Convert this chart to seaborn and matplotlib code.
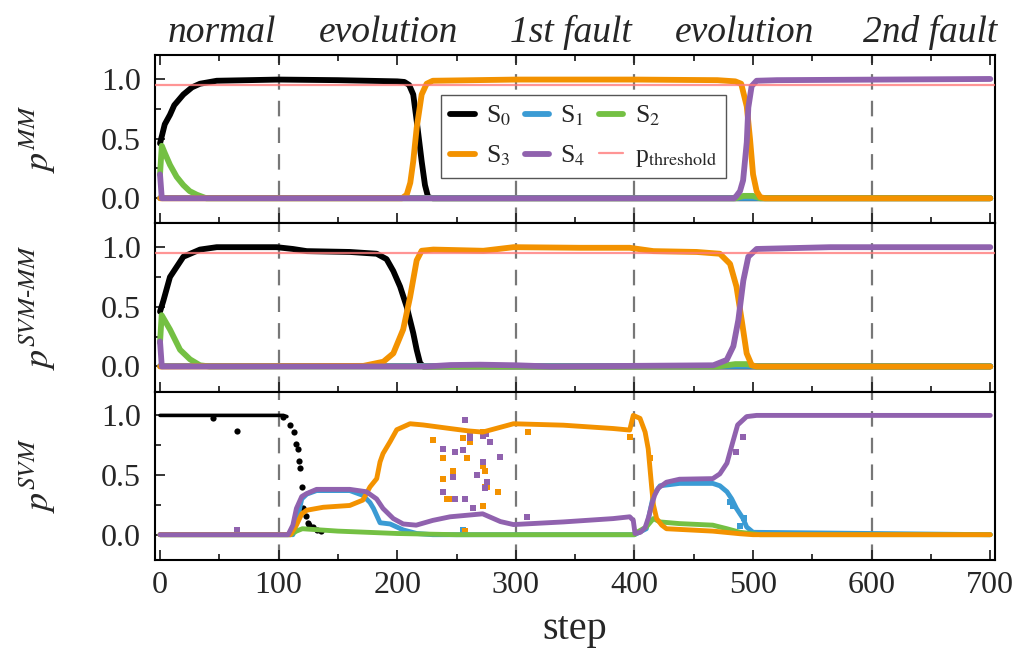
import matplotlib
matplotlib.use("Agg")
import matplotlib.pyplot as plt
import matplotlib.transforms as mtransforms
from matplotlib.ticker import MultipleLocator, FormatStrFormatter
import seaborn as sns

# ---- phases / annotations ----
PHASES = ["normal", "evolution", "1st fault", "evolution", "2nd fault"]
PHASE_STEP = [52, 193, 346, 493, 649]
FAULT_STEPS = [100, 300, 400, 600]
P_THRESHOLD = 0.95

# ---- panel 1: p^MM ----
MM_S0_STEP = [0, 4, 8.4, 12, 19.7, 27, 33.7, 47.8, 100, 150, 200, 206, 210, 213.5, 216.4, 218.5, 220.6, 223.4, 226, 230, 700]
MM_S0_P = [0.46, 0.62, 0.70, 0.78, 0.87, 0.93, 0.96, 0.985, 0.995, 0.99, 0.98, 0.975, 0.95, 0.87, 0.65, 0.48, 0.31, 0.11, 0.01, 0.0, 0.0]
MM_S1_STEP = [0, 700]
MM_S1_P = [0.0, 0.0]
MM_S2_STEP = [0, 1.5, 4, 8.4, 14, 19.7, 25, 31, 39, 485, 492, 500, 506, 700]
MM_S2_P = [0.2, 0.44, 0.38, 0.28, 0.18, 0.11, 0.06, 0.03, 0.0, 0.0, 0.02, 0.02, 0.0, 0.0]
MM_S3_STEP = [0, 204, 208, 211, 213.5, 216.4, 220.6, 224.8, 230, 300, 400, 470, 485, 490, 494.7, 497.5, 500, 503, 506, 510, 700]
MM_S3_P = [0.0, 0.0, 0.03, 0.13, 0.31, 0.59, 0.87, 0.96, 0.985, 0.995, 0.995, 0.99, 0.98, 0.96, 0.77, 0.49, 0.2, 0.06, 0.01, 0.0, 0.0]
MM_S4_STEP = [0, 1.5, 484, 486, 489, 491.6, 494.7, 496, 498.8, 503, 520, 700]
MM_S4_P = [0.2, 0.0, 0.0, 0.02, 0.06, 0.15, 0.47, 0.76, 0.94, 0.985, 0.99, 1.0]

# ---- panel 2: p^SVM-MM ----
SM_S0_STEP = [0, 2.8, 8.4, 19.7, 33.7, 47.8, 98.4, 112, 123.7, 160, 182.7, 191, 196.7, 202.4, 208, 213.5, 216.4, 219.2, 222, 700]
SM_S0_P = [0.46, 0.55, 0.75, 0.92, 0.98, 1.0, 1.0, 0.985, 0.967, 0.96, 0.945, 0.9, 0.8, 0.67, 0.5, 0.28, 0.14, 0.03, 0.0, 0.0]
SM_S1_STEP = [0, 700]
SM_S1_P = [0.0, 0.0]
SM_S2_STEP = [0, 1.4, 8.4, 16.9, 25.3, 33.7, 42, 470, 485, 495, 503, 700]
SM_S2_P = [0.2, 0.43, 0.31, 0.14, 0.06, 0.01, 0.0, 0.0, 0.02, 0.02, 0.0, 0.0]
SM_S3_STEP = [0, 171.5, 188.3, 196.7, 205, 210.8, 216.4, 220.6, 230.4, 272.6, 298, 354, 396, 416, 452.5, 472, 480.6, 486, 490.4, 494.6, 498.9, 503, 700]
SM_S3_P = [0.0, 0.005, 0.04, 0.11, 0.31, 0.58, 0.89, 0.97, 0.98, 0.97, 1.0, 0.995, 0.995, 0.967, 0.96, 0.945, 0.86, 0.67, 0.39, 0.11, 0.01, 0.0, 0.0]
SM_S4_STEP = [0, 1.5, 225, 245, 270, 300, 330, 466.5, 477.8, 483.4, 487.6, 491.8, 496, 503, 565, 700]
SM_S4_P = [0.21, 0.0, 0.0, 0.012, 0.015, 0.01, 0.0, 0.01, 0.055, 0.17, 0.39, 0.72, 0.92, 0.985, 1.0, 1.0]

# ---- panel 3: p^SVM (tracks) ----
SV_S0_STEP = [0, 104, 107]
SV_S0_P = [1.0, 1.0, 0.99]
SV_S1_STEP = [0, 112, 115, 119.5, 123.7, 132, 160, 171, 177, 180, 185.5, 194, 205, 216.4, 230, 400, 410, 416, 421.6, 438, 466, 472, 478, 482, 486, 491.6, 494.6, 500, 700]
SV_S1_P = [0.0, 0.0, 0.1, 0.3, 0.34, 0.37, 0.37, 0.33, 0.27, 0.22, 0.10, 0.09, 0.04, 0.01, 0.0, 0.0, 0.05, 0.33, 0.41, 0.43, 0.43, 0.41, 0.36, 0.30, 0.22, 0.135, 0.065, 0.02, 0.0]
SV_S2_STEP = [0, 110, 115, 120, 135, 150, 200, 250, 400, 402, 410, 416, 421.6, 438, 466, 478, 489, 500, 506, 700]
SV_S2_P = [0.0, 0.0, 0.03, 0.05, 0.04, 0.03, 0.01, 0.0, 0.0, 0.02, 0.065, 0.135, 0.107, 0.093, 0.08, 0.05, 0.02, 0.008, 0.0, 0.0]
SV_S3_STEP = [0, 110, 115, 119.5, 123.7, 137.6, 160, 171, 177, 182.7, 185.5, 188, 194, 199.6, 210.8, 221.8, 244.5, 260, 272, 298, 340, 382, 396, 399, 404.7, 409, 411.6, 414.6, 416, 418.7, 423, 427, 466, 489, 500, 700]
SV_S3_P = [0.0, 0.0, 0.08, 0.175, 0.205, 0.23, 0.245, 0.29, 0.40, 0.47, 0.61, 0.68, 0.78, 0.88, 0.93, 0.92, 0.89, 0.87, 0.86, 0.93, 0.918, 0.89, 0.877, 1.0, 0.975, 0.86, 0.72, 0.39, 0.25, 0.135, 0.08, 0.05, 0.03, 0.008, 0.0, 0.0]
SV_S4_STEP = [0, 108, 112, 115, 119.5, 123.7, 132, 160, 174, 182.6, 188, 196.7, 205, 216, 230, 244.5, 272, 287, 298, 340, 382, 396, 399, 400.5, 405, 409, 412, 414.5, 417, 420, 427, 438, 466, 472, 478, 483, 487, 494.6, 503, 700]
SV_S4_P = [0.0, 0.0, 0.08, 0.22, 0.32, 0.345, 0.38, 0.38, 0.36, 0.30, 0.22, 0.135, 0.09, 0.08, 0.12, 0.15, 0.175, 0.11, 0.085, 0.107, 0.135, 0.15, 0.12, 0.01, 0.02, 0.06, 0.15, 0.25, 0.33, 0.39, 0.44, 0.465, 0.47, 0.51, 0.6, 0.78, 0.92, 0.99, 1.0, 1.0]

# ---- panel 3: p^SVM (scattered points) ----
SV_S0_DOT_STEP = [45, 64.7, 104, 109.6, 113, 114.7, 116.6, 117.2, 117.8, 119.5, 120.9, 123, 124.9, 126, 129, 132, 136]
SV_S0_DOT_P = [0.975, 0.87, 0.99, 0.92, 0.86, 0.76, 0.72, 0.62, 0.56, 0.40, 0.22, 0.16, 0.10, 0.08, 0.065, 0.04, 0.03]
SV_S1_DOT_STEP = [255.6, 480.6, 483, 489, 492]
SV_S1_DOT_P = [0.04, 0.27, 0.24, 0.07, 0.14]
SV_S3_DOT_STEP = [230, 238.6, 239, 241.7, 247, 247, 255.5, 257, 258.5, 261, 272, 272, 272, 274, 274, 275.4, 285, 310, 396, 413]
SV_S3_DOT_P = [0.79, 0.64, 0.47, 0.30, 0.53, 0.30, 0.81, 0.03, 0.64, 0.78, 0.24, 0.58, 0.86, 0.40, 0.53, 0.40, 0.36, 0.86, 0.82, 0.64]
SV_S4_DOT_STEP = [65, 239, 239, 247, 249, 249, 255.6, 257, 257, 261, 261, 264, 267, 272.5, 272.7, 274, 275, 275.4, 278, 287, 309, 486, 491.6]
SV_S4_DOT_P = [0.04, 0.72, 0.36, 0.48, 0.69, 0.30, 0.71, 0.96, 0.30, 0.86, 0.81, 0.22, 0.5, 0.61, 0.83, 0.39, 0.84, 0.44, 0.78, 0.65, 0.15, 0.69, 0.82]

STATE_LABELS = ["S$_0$", "S$_1$", "S$_2$", "S$_3$", "S$_4$"]
STATE_COLORS = ["#000000", "#3b9bd4", "#74c043", "#f39200", "#9062ae"]
THRESH_COLOR = "#ff7b7b"

sns.set_theme(style="ticks")
plt.rcParams["font.family"] = ["Liberation Serif", "DejaVu Serif"]
plt.rcParams["mathtext.fontset"] = "stix"
plt.rcParams["axes.linewidth"] = 1.5

fig, axes = plt.subplots(3, 1, sharex=True, figsize=(10.24, 6.64), dpi=100)
fig.subplots_adjust(left=0.1514, right=0.9717, top=0.917, bottom=0.157, hspace=0)

panels = [
    ([MM_S0_STEP, MM_S1_STEP, MM_S2_STEP, MM_S3_STEP, MM_S4_STEP],
     [MM_S0_P, MM_S1_P, MM_S2_P, MM_S3_P, MM_S4_P]),
    ([SM_S0_STEP, SM_S1_STEP, SM_S2_STEP, SM_S3_STEP, SM_S4_STEP],
     [SM_S0_P, SM_S1_P, SM_S2_P, SM_S3_P, SM_S4_P]),
]

for ax, (steps, probs) in zip(axes[:2], panels):
    for st, pv, lab, col in zip(steps, probs, STATE_LABELS, STATE_COLORS):
        sns.lineplot(x=st, y=pv, ax=ax, color=col, lw=4.2, label=lab,
                     sort=False, estimator=None, solid_capstyle="round",
                     solid_joinstyle="round")
    ax.axhline(P_THRESHOLD, color=THRESH_COLOR, lw=1.6, alpha=0.8,
               label="p$_{\\mathrm{threshold}}$", zorder=5)

# bottom panel: tracks + scattered points
ax3 = axes[2]
sv_tracks = [(SV_S0_STEP, SV_S0_P), (SV_S1_STEP, SV_S1_P), (SV_S2_STEP, SV_S2_P),
             (SV_S3_STEP, SV_S3_P), (SV_S4_STEP, SV_S4_P)]
for (st, pv), col in zip(sv_tracks, STATE_COLORS):
    lw = 2.6 if col == "#000000" else 3.5
    sns.lineplot(x=st, y=pv, ax=ax3, color=col, lw=lw, sort=False, estimator=None,
                 solid_joinstyle="round")
sns.scatterplot(x=SV_S0_DOT_STEP, y=SV_S0_DOT_P, ax=ax3, color=STATE_COLORS[0],
                marker="o", s=20, linewidth=0)
for st, pv, col in [(SV_S1_DOT_STEP, SV_S1_DOT_P, STATE_COLORS[1]),
                    (SV_S3_DOT_STEP, SV_S3_DOT_P, STATE_COLORS[3]),
                    (SV_S4_DOT_STEP, SV_S4_DOT_P, STATE_COLORS[4])]:
    sns.scatterplot(x=st, y=pv, ax=ax3, color=col, marker="s", s=16, linewidth=0)

ylabels = [r"$p^{MM}$", r"$p^{SVM\text{-}MM}$", r"$p^{SVM}$"]
for ax, yl in zip(axes, ylabels):
    for fs in FAULT_STEPS:
        ax.axvline(fs, color="#777777", lw=1.6, dashes=(7, 5), zorder=0.5)
    ax.set_xlim(-4.2, 704)
    ax.set_ylim(-0.21, 1.2)
    ax.set_yticks([0.0, 0.5, 1.0])
    ax.yaxis.set_major_formatter(FormatStrFormatter("%.1f"))
    ax.yaxis.set_minor_locator(MultipleLocator(0.25))
    ax.xaxis.set_major_locator(MultipleLocator(100))
    ax.xaxis.set_minor_locator(MultipleLocator(50))
    ax.tick_params(axis="both", which="both", direction="in", width=1.3, labelsize=23)
    ax.tick_params(axis="both", which="major", length=7)
    ax.tick_params(axis="both", which="minor", length=4)
    ax.tick_params(axis="y", pad=10)
    ax.tick_params(axis="x", pad=8)
    ax.set_ylabel(yl, fontsize=26)
    ax.yaxis.set_label_coords(-0.115, 0.5)
    ax.set_xlabel("")
    for sp in ax.spines.values():
        sp.set_linewidth(1.5)
        sp.set_color("black")

axes[0].tick_params(axis="x", which="both", top=True)
axes[2].set_xlabel("step", fontsize=29, labelpad=8)

# legend in the top panel: row 1 S0 S1 S2, row 2 S3 S4 threshold
handles, labels = axes[0].get_legend_handles_labels()
order = [0, 3, 1, 4, 2, 5]
axes[0].legend([handles[i] for i in order], [labels[i] for i in order],
               ncol=3, loc="upper left", bbox_to_anchor=(0.341, 0.765),
               borderaxespad=0, fontsize=18.5, frameon=True, fancybox=False,
               edgecolor="#555555", framealpha=1, handlelength=0.95,
               handletextpad=0.45, columnspacing=0.5, labelspacing=0.6,
               borderpad=0.35)
if axes[1].get_legend():
    axes[1].get_legend().remove()

# phase labels above the top panel
trans = mtransforms.blended_transform_factory(axes[0].transData, axes[0].transAxes)
for name, xs in zip(PHASES, PHASE_STEP):
    axes[0].text(xs, 1.03, name, transform=trans, ha="center", va="bottom",
                 fontsize=27, fontstyle="italic")

fig.savefig("out.png", dpi=100)
